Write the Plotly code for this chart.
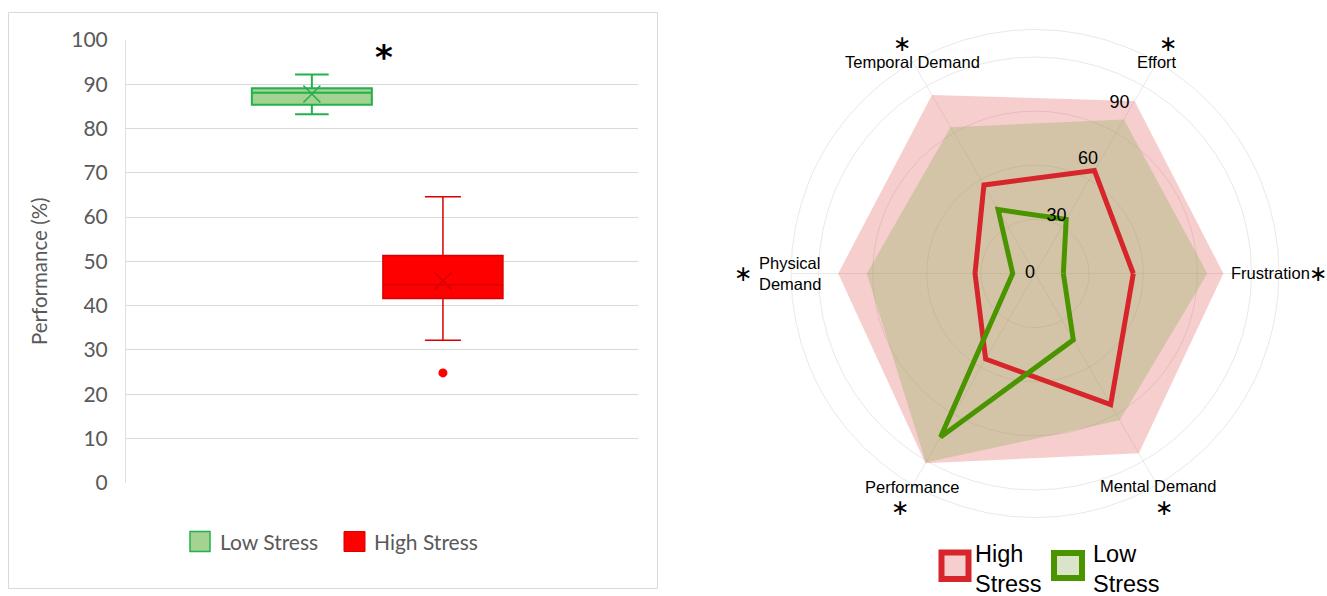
import math
import plotly.graph_objects as go

W, H = 1327, 596

# ---------------- Left panel: task performance box plots ----------------
groups = ["Low Stress", "High Stress"]
perf_lower_whisker = [83.2, 32.2]
perf_q1 = [85.4, 41.6]
perf_median = [88.1, 44.7]
perf_q3 = [89.1, 51.3]
perf_upper_whisker = [92.2, 64.6]
perf_mean = [87.8, 45.6]
high_outliers = [24.8]
y_ticks = list(range(0, 101, 10))

# ---------------- Right panel: NASA-TLX radar ----------------
dimensions = ["Frustration", "Effort", "Temporal Demand",
              "Physical Demand", "Performance", "Mental Demand"]
dimension_labels = ["Frustration", "Effort", "Temporal Demand",
                    "Physical<br>Demand", "Performance", "Mental Demand"]
significant = [True, True, True, True, True, True]
high_mean = [45.4, 54.9, 47.2, 27.7, 45.6, 69.9]
low_mean = [13.1, 28.8, 34.1, 10.3, 87.2, 35.4]
high_upper = [87.0, 92.0, 95.2, 90.9, 101.2, 95.9]
low_upper = [79.6, 82.2, 78.0, 77.7, 100.8, 78.3]
radial_ticks = [0, 30, 60, 90]


def px_x(x):
    return x / W


def px_y(y):
    return 1 - y / H


# colours
LOW_FILL = "rgb(163,210,145)"
LOW_EDGE = "#22B14C"
HIGH_FILL = "#FF0000"
HIGH_EDGE = "#D80000"
RADAR_RED = "#D7262B"
RADAR_GREEN = "#4A9400"
HIGH_BAND = "rgba(220,60,60,0.25)"
LOW_BAND = "rgba(146,177,97,0.35)"
GRID = "#e9e9e9"

box_pos = [0.363, 0.619]
box_width = 0.2344

fig = go.Figure()

box_styles = [
    dict(fill=LOW_FILL, edge=LOW_EDGE, lw=2.0, ww=0.28),
    dict(fill=HIGH_FILL, edge=HIGH_EDGE, lw=1.5, ww=0.30),
]
for i, g in enumerate(groups):
    st = box_styles[i]
    fig.add_trace(go.Box(
        name=g, x=[box_pos[i]],
        q1=[perf_q1[i]], median=[perf_median[i]], q3=[perf_q3[i]],
        lowerfence=[perf_lower_whisker[i]], upperfence=[perf_upper_whisker[i]],
        width=box_width, whiskerwidth=st["ww"], boxpoints=False,
        fillcolor=st["fill"], line=dict(color=st["edge"], width=st["lw"]),
        showlegend=False, hoverinfo="skip",
        xaxis="x", yaxis="y",
    ))
    # mean marker
    fig.add_trace(go.Scatter(
        x=[box_pos[i]], y=[perf_mean[i]], mode="markers",
        marker=dict(symbol="x-thin", size=17,
                    line=dict(width=1.6, color=st["edge"])),
        showlegend=False, hoverinfo="skip", xaxis="x", yaxis="y",
    ))

fig.add_trace(go.Scatter(
    x=[box_pos[1]] * len(high_outliers), y=high_outliers, mode="markers",
    marker=dict(symbol="circle", size=9, color=HIGH_FILL),
    showlegend=False, hoverinfo="skip", xaxis="x", yaxis="y",
))

# ---------------- radar traces ----------------
angles = [0, 60, 120, 180, 240, 300]


def closed(vals):
    return list(vals) + [vals[0]]


fig.add_trace(go.Scatterpolar(
    r=closed(high_upper), theta=closed(angles), mode="lines", fill="toself",
    fillcolor=HIGH_BAND, line=dict(width=0, color="rgba(0,0,0,0)"),
    showlegend=False, hoverinfo="skip",
))
fig.add_trace(go.Scatterpolar(
    r=closed(low_upper), theta=closed(angles), mode="lines", fill="toself",
    fillcolor=LOW_BAND, line=dict(width=0, color="rgba(0,0,0,0)"),
    showlegend=False, hoverinfo="skip",
))
fig.add_trace(go.Scatterpolar(
    r=closed(high_mean), theta=closed(angles), mode="lines",
    line=dict(width=5, color=RADAR_RED),
    showlegend=False, hoverinfo="skip",
))
fig.add_trace(go.Scatterpolar(
    r=closed(low_mean), theta=closed(angles), mode="lines",
    line=dict(width=5, color=RADAR_GREEN),
    showlegend=False, hoverinfo="skip",
))

# radial value labels along the Effort spoke
fig.add_trace(go.Scatterpolar(
    r=radial_ticks, theta=[61] * len(radial_ticks), mode="text",
    text=[str(v) for v in radial_ticks], textposition="middle left",
    textfont=dict(family="Liberation Sans, Arial", size=18, color="black"),
    showlegend=False, hoverinfo="skip", cliponaxis=False,
))

# ---------------- layout ----------------
cx, cy, R = 1035.0, 273.5, 244.0
r_max = 112.7
scale = R / r_max


def polar_px(r, theta_deg):
    t = math.radians(theta_deg)
    return cx + r * scale * math.cos(t), cy - r * scale * math.sin(t)


shapes = [
    # outer frame of the box-plot panel
    dict(type="rect", xref="paper", yref="paper",
         x0=px_x(8.5), x1=px_x(657.5), y0=px_y(588.5), y1=px_y(12.5),
         line=dict(color="#d9d9d9", width=1), fillcolor="rgba(0,0,0,0)",
         layer="below"),
    # left legend swatches
    dict(type="rect", xref="paper", yref="paper",
         x0=px_x(190), x1=px_x(210), y0=px_y(551.5), y1=px_y(531.5),
         line=dict(color=LOW_EDGE, width=1.5), fillcolor=LOW_FILL),
    dict(type="rect", xref="paper", yref="paper",
         x0=px_x(344), x1=px_x(365), y0=px_y(551.5), y1=px_y(531.5),
         line=dict(color=HIGH_EDGE, width=1), fillcolor=HIGH_FILL),
    # right legend swatches
    dict(type="rect", xref="paper", yref="paper",
         x0=px_x(941.5), x1=px_x(968.5), y0=px_y(579), y1=px_y(552.5),
         line=dict(color=RADAR_RED, width=6), fillcolor=HIGH_BAND),
    dict(type="rect", xref="paper", yref="paper",
         x0=px_x(1054), x1=px_x(1082), y0=px_y(578), y1=px_y(553),
         line=dict(color=RADAR_GREEN, width=6), fillcolor=LOW_BAND),
]

lato = "Lato, Calibri, Open Sans, sans-serif"
arial = "Liberation Sans, Arial, sans-serif"


def note(text, x, y, size, family, color="black", xanchor="center",
         align="center", angle=0, height=None):
    ann = dict(text=text, xref="paper", yref="paper", x=px_x(x), y=px_y(y),
               showarrow=False, xanchor=xanchor, yanchor="middle",
               align=align, textangle=angle, borderpad=0,
               font=dict(family=family, size=size, color=color))
    if height is not None:
        ann["height"] = height
    return ann


annotations = [
    note("Performance (%)", 39, 271, 20.5, lato, "#595959", angle=-90),
    note("<b>*</b>", 384, 57, 34, "DejaVu Sans"),
    note("Low Stress", 219, 541.5, 21, lato, "#595959", xanchor="left"),
    note("High Stress", 373.5, 541.5, 21, lato, "#595959", xanchor="left"),
    note("High", 974, 554, 23.5, arial, xanchor="left"),
    note("Stress", 974, 584, 23.5, arial, xanchor="left"),
    note("Low", 1091.5, 554, 23.5, arial, xanchor="left"),
    note("Stress", 1091.5, 584, 23.5, arial, xanchor="left"),
]

# dimension names around the radar
label_r = [109, 112.8, 113, 113.2, 114, 113.6]
for name, r, th in zip(dimension_labels, label_r, angles):
    x, y = polar_px(r, th)
    annotations.append(note(name, x, y, 16.5, arial,
                            align="left" if "<br>" in name else "center"))

# significance markers
star_r = [130.8, 122.8, 122.8, 134.9, 124.6, 123.2]
star_theta = [0, 60.1, 119.9, 180, 240, 298.9]
for r, th, sig in zip(star_r, star_theta, significant):
    if sig:
        x, y = polar_px(r, th)
        annotations.append(note("\u2217", x, y, 22, "DejaVu Sans", height=15))

fig.update_layout(
    width=W, height=H,
    margin=dict(l=0, r=0, t=0, b=0, pad=0, autoexpand=False),
    paper_bgcolor="white", plot_bgcolor="white",
    showlegend=False,
    xaxis=dict(domain=[px_x(126), px_x(638)], range=[0, 1],
               showgrid=False, zeroline=False, showticklabels=False,
               showline=False, fixedrange=True, automargin=False),
    yaxis=dict(domain=[px_y(482.7), px_y(40)], range=[0, 100],
               tickmode="array", tickvals=y_ticks,
               showgrid=True, gridcolor="#d9d9d9", gridwidth=1.3,
               zeroline=False, showline=True, linecolor="#e0e0e0",
               linewidth=1, ticks="", ticklabelstandoff=13,
               tickfont=dict(family=lato, size=21, color="#595959"),
               fixedrange=True, automargin=False),
    polar=dict(
        domain=dict(x=[px_x(cx - R), px_x(cx + R)],
                    y=[px_y(cy + R), px_y(cy - R)]),
        bgcolor="rgba(0,0,0,0)",
        radialaxis=dict(range=[0, r_max], tickmode="array",
                        tickvals=[25, 50, 75, 100], showticklabels=False,
                        ticks="", showline=False, gridcolor=GRID,
                        gridwidth=1),
        angularaxis=dict(type="linear", thetaunit="degrees", rotation=0,
                         direction="counterclockwise", tickmode="array",
                         tickvals=angles, showticklabels=False, ticks="",
                         gridcolor=GRID, gridwidth=1, showline=True,
                         linecolor=GRID, linewidth=1),
    ),
    shapes=shapes,
    annotations=annotations,
)

fig.write_html("out.html")
